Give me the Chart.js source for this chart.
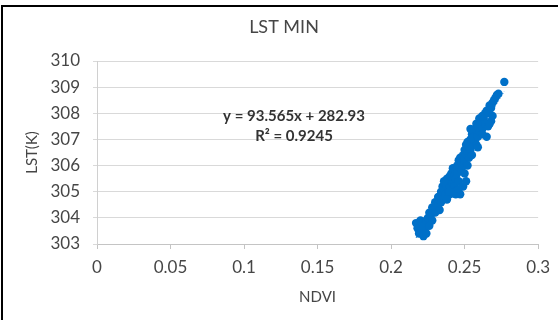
<!DOCTYPE html>
<html>
<head>
<meta charset="utf-8">
<script src="https://cdn.jsdelivr.net/npm/chart.js@4"></script>
<style>
  html, body { margin: 0; padding: 0; background: #fff; }
  #wrap { position: relative; width: 558px; height: 320px; overflow: hidden; }
  #frame { position: absolute; left: 1px; top: 5px; width: 600px; height: 400px;
           border-left: 2px solid #000; border-top: 2px solid #000; pointer-events: none; }
  canvas { position: absolute; left: 0; top: 0; }
</style>
</head>
<body>
<div id="wrap">
  <canvas id="myChart" width="558" height="320"></canvas>
  <div id="frame"></div>
</div>
<script>
// NDVI vs minimum land surface temperature
const ndvi = [
  0.217, 0.218, 0.219, 0.220, 0.221, 0.222, 0.222, 0.223, 0.224, 0.224,
  0.225, 0.226, 0.226, 0.227, 0.228, 0.228, 0.229, 0.230, 0.230, 0.231,
  0.232, 0.232, 0.233, 0.234, 0.234, 0.235, 0.235, 0.236, 0.236, 0.237,
  0.237, 0.238, 0.238, 0.239, 0.239, 0.240, 0.240, 0.240, 0.241, 0.241,
  0.242, 0.242, 0.243, 0.243, 0.244, 0.244, 0.245, 0.245, 0.246, 0.246,
  0.247, 0.247, 0.248, 0.248, 0.249, 0.249, 0.250, 0.250, 0.251, 0.251,
  0.252, 0.252, 0.253, 0.253, 0.254, 0.254, 0.255, 0.255, 0.256, 0.256,
  0.257, 0.257, 0.258, 0.258, 0.259, 0.259, 0.260, 0.260, 0.261, 0.262,
  0.262, 0.263, 0.264, 0.264, 0.265, 0.266, 0.267, 0.268, 0.269, 0.270,
  0.271, 0.272, 0.277, 0.247, 0.251, 0.249, 0.265, 0.266, 0.268, 0.269,
  0.254, 0.243, 0.240, 0.236, 0.244, 0.246, 0.250, 0.252, 0.255, 0.258,
  0.262, 0.267, 0.233, 0.238, 0.259, 0.273
];
const lst = [
  303.8, 303.6, 303.4, 303.9, 303.5, 303.3, 303.7, 303.5, 303.9, 303.4,
  304.0, 303.7, 304.2, 304.1, 304.4, 303.9, 304.3, 304.6, 304.2, 304.5,
  304.8, 304.4, 304.7, 305.0, 304.6, 304.9, 305.2, 304.8, 305.1, 305.3,
  304.9, 305.2, 305.5, 305.0, 305.4, 305.6, 305.2, 304.9, 305.4, 305.7,
  305.3, 305.9, 305.6, 305.2, 305.8, 305.5, 306.0, 305.7, 305.4, 306.2,
  305.9, 306.3, 306.1, 305.8, 306.4, 306.0, 306.6, 306.2, 306.4, 306.8,
  306.5, 306.9, 306.7, 306.3, 307.0, 306.6, 306.9, 307.2, 306.8, 307.1,
  307.4, 306.9, 307.3, 307.6, 307.1, 307.5, 307.8, 307.3, 307.6, 307.9,
  307.4, 307.8, 308.0, 307.6, 308.1, 308.0, 308.3, 308.2, 308.4, 308.5,
  308.6, 308.7, 309.2, 304.9, 305.4, 305.2, 307.1, 307.5, 307.7, 307.9,
  307.4, 305.0, 305.0, 305.4, 304.9, 305.1, 305.7, 306.0, 306.4, 306.8,
  307.2, 307.6, 304.3, 304.7, 306.7, 308.75
];
// linear trend line fitted in the original sheet
const slope = 93.565;
const intercept = 282.93;
const r2 = 0.9245;
const trendX = [0.217, 0.277];
const xTicks = [0, 0.05, 0.1, 0.15, 0.2, 0.25, 0.3];

const points = ndvi.map(function(x, i) { return {x: x, y: lst[i]}; });
const trend = trendX.map(function(x) { return {x: x, y: slope * x + intercept}; });

const FONT = 'Lato, "Open Sans", sans-serif';
const GREY = '#464646';

// title and trend equation
const labels = {
  id: 'labels',
  afterDatasetsDraw(chart) {
    const ctx = chart.ctx;
    const xs = chart.scales.x, ys = chart.scales.y;
    const cx = xs.getPixelForValue(0.134);
    ctx.save();
    ctx.textAlign = 'center';
    ctx.textBaseline = 'middle';
    ctx.fillStyle = GREY;
    ctx.font = '18px ' + FONT;
    ctx.fillText('LST MIN', 284, 27);
    ctx.fillStyle = '#333333';
    ctx.font = 'bold 15px ' + FONT;
    ctx.fillText('y = ' + slope + 'x + ' + intercept, cx, ys.getPixelForValue(307.89));
    ctx.fillText('R\u00B2 = ' + r2, cx, ys.getPixelForValue(307.13));
    ctx.restore();
  }
};

new Chart('myChart', {
  type: 'scatter',
  data: {
    datasets: [{
      data: points,
      backgroundColor: '#0070C8',
      borderColor: '#0070C8',
      pointRadius: 4.2,
      borderWidth: 0
    }, {
      type: 'line',
      data: trend,
      borderColor: '#0070C8',
      borderWidth: 1,
      borderDash: [1, 2],
      pointRadius: 0,
      fill: false
    }]
  },
  options: {
    responsive: false,
    animation: false,
    events: [],
    layout: {padding: {left: 0, right: 19, top: 61, bottom: 0}},
    plugins: {
      legend: {display: false},
      tooltip: {enabled: false},
      title: {display: false}
    },
    scales: {
      x: {
        type: 'linear',
        min: 0, max: 0.3,
        afterBuildTicks: function(s) { s.ticks = xTicks.map(function(v) { return {value: v}; }); },
        afterFit: function(s) { s.height = 76; },
        ticks: {
          color: GREY, font: {family: FONT, size: 17}, padding: 8,
          callback: function(v) { return String(v); }
        },
        grid: {drawOnChartArea: false, drawTicks: true, tickLength: 5, color: '#c4c4c4'},
        border: {color: '#c4c4c4'},
        title: {display: true, text: 'NDVI', color: GREY, font: {family: FONT, size: 15}, padding: {bottom: 14}}
      },
      y: {
        min: 303, max: 310,
        afterFit: function(s) { s.width = 97; },
        ticks: {stepSize: 1, color: GREY, font: {family: FONT, size: 17}, padding: 13},
        grid: {color: '#d9d9d9', tickLength: 4},
        border: {color: '#d0d0d0'},
        title: {display: true, text: 'LST(K)', color: GREY, font: {family: FONT, size: 15}, padding: {top: 23}}
      }
    }
  },
  plugins: [labels]
});
</script>
</body>
</html>
